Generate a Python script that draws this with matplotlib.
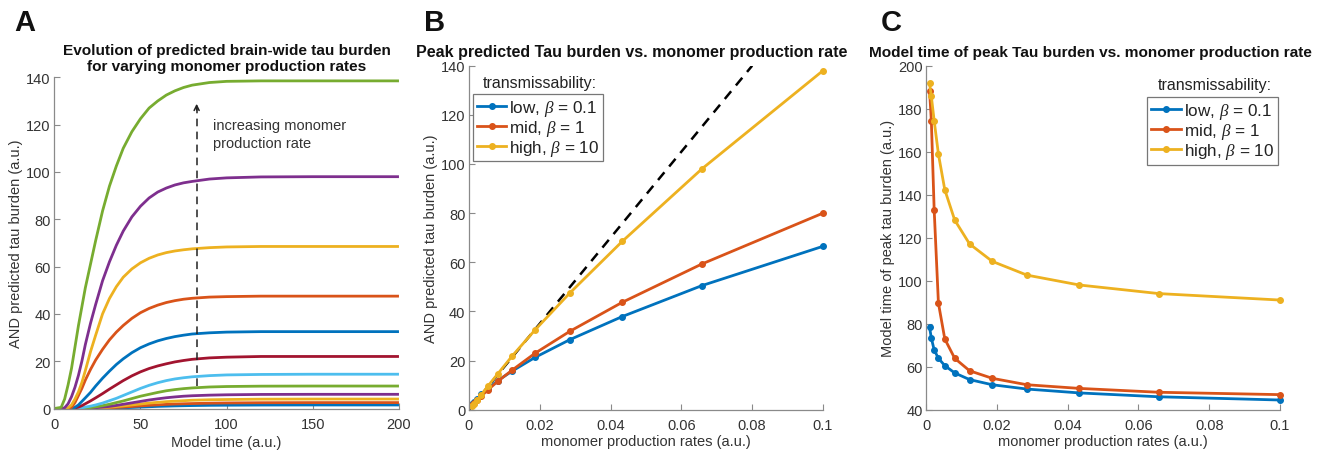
"""
Figura de tres paneles: evolución de la carga de tau (A), pico de carga vs tasa de
producción de monómero (B) y tiempo del pico vs tasa (C).
"""
import matplotlib
matplotlib.use('Agg')
import matplotlib.pyplot as plt

# ─── Datos ───────────────────────────────────────────────────────────────────

# Tiempos de muestreo (leídos a ojo) para las curvas del panel A
T_MODEL = [0, 4, 6, 8, 10, 12, 14, 16, 18, 21, 24, 28, 32, 36, 40, 45, 50, 55,
           60, 65, 70, 75, 80, 90, 100, 120, 150, 200]

# Una curva por tasa de producción, de menor a mayor
BURDEN_CURVES = [
    [0, 0, 0, 0, 0, 0, 0, 0, 0, 0, 0, 0.1, 0.15, 0.22, 0.3, 0.45, 0.6, 0.75,
     0.9, 1, 1.1, 1.18, 1.25, 1.35, 1.4, 1.47, 1.5, 1.5],
    [0, 0, 0, 0, 0, 0, 0, 0, 0, 0, 0.1, 0.2, 0.3, 0.45, 0.6, 0.85, 1.1, 1.35,
     1.55, 1.75, 1.9, 2, 2.1, 2.25, 2.35, 2.45, 2.5, 2.5],
    [0, 0, 0, 0, 0, 0, 0, 0, 0, 0.1, 0.2, 0.35, 0.55, 0.8, 1.1, 1.5, 1.9, 2.3,
     2.6, 2.9, 3.1, 3.3, 3.5, 3.7, 3.8, 3.95, 4, 4],
    [0, 0, 0, 0, 0, 0, 0, 0, 0.1, 0.2, 0.35, 0.6, 0.9, 1.3, 1.8, 2.4, 3, 3.6,
     4.1, 4.55, 4.9, 5.2, 5.4, 5.65, 5.8, 5.95, 6, 6],
    [0, 0, 0, 0, 0, 0, 0, 0.1, 0.2, 0.4, 0.7, 1.2, 1.8, 2.5, 3.2, 4.2, 5.2, 6,
     6.8, 7.5, 8, 8.4, 8.7, 9.1, 9.3, 9.45, 9.5, 9.5],
    [0, 0, 0, 0, 0, 0, 0.1, 0.3, 0.6, 1, 1.5, 2.3, 3.3, 4.3, 5.5, 7, 8.5, 9.8,
     10.9, 11.8, 12.5, 13, 13.4, 13.9, 14.2, 14.4, 14.5, 14.5],
    [0, 0, 0, 0, 0, 0.2, 0.6, 1.2, 2, 3.2, 4.5, 6.3, 8.2, 10, 11.8, 13.8, 15.5,
     16.9, 18, 18.9, 19.7, 20.3, 20.8, 21.4, 21.7, 22, 22, 22],
    [0, 0, 0, 0, 0, 0.5, 1.5, 3, 4.5, 6.8, 9.5, 12.8, 15.8, 18.6, 21, 23.6,
     25.7, 27.3, 28.6, 29.6, 30.4, 31, 31.5, 32, 32.3, 32.5, 32.5, 32.5],
    [0, 0, 0, 0, 0.5, 2.5, 5.5, 8.5, 12, 16.5, 20.5, 25, 29, 32.3, 35.1, 38.1,
     40.5, 42.3, 43.7, 44.8, 45.6, 46.2, 46.6, 47.1, 47.3, 47.5, 47.5, 47.5],
    [0, 0, 0, 0.3, 1.5, 4, 7, 11, 16, 24, 31, 40, 46.5, 51.5, 55.5, 59, 61.6,
     63.5, 64.9, 65.9, 66.6, 67.1, 67.5, 68, 68.3, 68.5, 68.5, 68.5],
    [0, 0, 0.3, 2, 5, 9, 14, 20, 27, 36, 44, 54, 62, 69, 75, 81, 85.5, 89, 91.5,
     93.2, 94.5, 95.4, 96, 97, 97.5, 97.9, 98, 98],
    [0, 0.5, 4, 10, 17, 26, 35, 43, 51, 61, 71, 83.5, 94, 102.5, 110, 117,
     122.5, 127, 130, 132.5, 134.3, 135.7, 136.7, 137.8, 138.3, 138.5, 138.5,
     138.5],
]

# Tasas de producción de monómero (paneles B y C)
RATES = [0.001, 0.0015, 0.0023, 0.0035, 0.0053, 0.0081, 0.0123, 0.0187,
         0.0285, 0.0433, 0.0658, 0.1]

PEAK_LOW = [2.3, 3.2, 4.5, 6.2, 8.5, 11.8, 15.8, 21.3, 28.5, 37.9, 50.5, 66.5]
PEAK_MID = [1.8, 2.6, 3.8, 5.5, 8, 11.5, 16.2, 23, 31.9, 43.7, 59.3, 80]
PEAK_HIGH = [1.5, 2.5, 4, 6, 9.5, 14.5, 22, 32.5, 47.5, 68.5, 98, 138]

# Recta de referencia (lineal) del panel B
REF_X = [0, 0.08]
REF_Y = [0, 140]

TPEAK_LOW = [78.3, 73.3, 67.8, 63.9, 60.5, 57.1, 54, 51.6, 49.6, 47.8, 46, 44.5]
TPEAK_MID = [188.4, 174.4, 133, 89.6, 72.9, 63.9, 58.1, 54.6, 51.6, 49.9, 48.1, 47]
TPEAK_HIGH = [191.9, 185.7, 174.4, 158.9, 142.3, 128.2, 117.1, 109, 102.6, 98,
              94, 91]

LEGEND_LABELS = [r'low, $\beta$ = 0.1', r'mid, $\beta$ = 1', r'high, $\beta$ = 10']

# ─── Estilo ──────────────────────────────────────────────────────────────────

# Orden de colores por defecto de MATLAB
MATLAB_COLORS = ['#0072BD', '#D95319', '#EDB120', '#7E2F8E', '#77AC30',
                 '#4DBEEE', '#A2142F']

AX_GRAY = '#8a8a8a'
TXT_GRAY = '#333333'

plt.rcParams.update({
    'font.family': ['Liberation Sans', 'DejaVu Sans'],
    'mathtext.fontset': 'custom',
    'mathtext.it': 'Liberation Serif:italic',
    'font.size': 10,
    'axes.linewidth': 0.9,
})


def style_axes(ax):
    """Ejes estilo MATLAB con box off: solo izquierda y abajo, ticks hacia adentro."""
    for side in ('top', 'right'):
        ax.spines[side].set_visible(False)
    for side in ('left', 'bottom'):
        ax.spines[side].set_color(AX_GRAY)
    ax.tick_params(direction='in', length=4, width=0.8, color=AX_GRAY,
                   labelcolor=TXT_GRAY, labelsize=10.5)
    ax.tick_params(axis='x', pad=6)
    ax.tick_params(axis='y', pad=2.5)


def add_legend(ax, lines, loc_xy, title_xy):
    # El título va afuera del recuadro, como en la figura original
    leg = ax.legend(lines, LEGEND_LABELS, loc='upper left', bbox_to_anchor=loc_xy,
                    borderaxespad=0, fancybox=False, edgecolor='#777777',
                    fontsize=12.3, handlelength=1.75, handletextpad=0.15,
                    labelspacing=0.0, borderpad=0.22, framealpha=1)
    leg.get_frame().set_linewidth(0.9)
    for t in leg.get_texts():
        t.set_color('#222222')
    ax.text(*title_xy, 'transmissability:', transform=ax.transAxes,
            ha='center', va='center', fontsize=11.5, color='#222222')


fig = plt.figure(figsize=(13.18, 4.52), dpi=100)

ax_a = fig.add_axes([0.0412, 0.094, 0.2615, 0.7327])
ax_b = fig.add_axes([0.3558, 0.0914, 0.2686, 0.761])
ax_c = fig.add_axes([0.7026, 0.0914, 0.2686, 0.761])

# ─── Panel A ─────────────────────────────────────────────────────────────────

for i, curve in enumerate(BURDEN_CURVES):
    ax_a.plot(T_MODEL, curve, color=MATLAB_COLORS[i % len(MATLAB_COLORS)],
              linewidth=2, solid_capstyle='butt')

# Flecha punteada "increasing monomer production rate"
ax_a.plot([82.6, 82.6], [9.6, 127], color='#222222', linestyle=(0, (5, 3.5)),
          linewidth=1.1)
ax_a.annotate('', xy=(82.6, 130), xytext=(82.6, 125),
              arrowprops=dict(arrowstyle='->', color='#222222', lw=1.1,
                              mutation_scale=9))
ax_a.text(92, 116, 'increasing monomer\nproduction rate', fontsize=10.5,
          color='#333333', va='center', ha='left', linespacing=1.35)

ax_a.set_xlim(0, 200)
ax_a.set_ylim(0, 140)
ax_a.set_xticks([0, 50, 100, 150, 200])
ax_a.set_yticks(range(0, 141, 20))
style_axes(ax_a)
ax_a.set_xlabel('Model time (a.u.)', fontsize=10.5, color=TXT_GRAY, labelpad=3)
ax_a.set_ylabel('AND predicted tau burden (a.u.)', fontsize=10.5,
                color=TXT_GRAY, labelpad=2)
ax_a.set_title('Evolution of predicted brain-wide tau burden\n'
               'for varying monomer production rates', fontsize=11.1,
               fontweight='bold', color='#111111', pad=5, linespacing=1.25)

# ─── Panel B ─────────────────────────────────────────────────────────────────

ax_b.plot(REF_X, REF_Y, color='black', linestyle=(0, (4, 3)), linewidth=1.8)
lines_b = []
for vals, color in zip([PEAK_LOW, PEAK_MID, PEAK_HIGH], MATLAB_COLORS[:3]):
    ln, = ax_b.plot(RATES, vals, color=color, linewidth=2, marker='o',
                    markersize=4, clip_on=False)
    lines_b.append(ln)

ax_b.set_xlim(0, 0.1)
ax_b.set_ylim(0, 140)
ax_b.set_xticks([0, 0.02, 0.04, 0.06, 0.08, 0.1])
ax_b.set_xticklabels(['0', '0.02', '0.04', '0.06', '0.08', '0.1'])
ax_b.set_yticks(range(0, 141, 20))
style_axes(ax_b)
ax_b.set_xlabel('monomer production rates (a.u.)', fontsize=10.5,
                color=TXT_GRAY, labelpad=1.5)
ax_b.set_ylabel('AND predicted tau burden (a.u.)', fontsize=10.5,
                color=TXT_GRAY, labelpad=2)
ax_b.set_title('Peak predicted Tau burden vs. monomer production rate',
               fontsize=11.5, fontweight='bold', color='#111111', pad=7, x=0.46)
add_legend(ax_b, lines_b, (0.011, 0.918), (0.2, 0.952))

# ─── Panel C ─────────────────────────────────────────────────────────────────

lines_c = []
for vals, color in zip([TPEAK_LOW, TPEAK_MID, TPEAK_HIGH], MATLAB_COLORS[:3]):
    ln, = ax_c.plot(RATES, vals, color=color, linewidth=2, marker='o',
                    markersize=4, clip_on=False)
    lines_c.append(ln)

ax_c.set_xlim(0, 0.1)
ax_c.set_ylim(40, 200)
ax_c.set_xticks([0, 0.02, 0.04, 0.06, 0.08, 0.1])
ax_c.set_xticklabels(['0', '0.02', '0.04', '0.06', '0.08', '0.1'])
ax_c.set_yticks(range(40, 201, 20))
style_axes(ax_c)
ax_c.set_xlabel('monomer production rates (a.u.)', fontsize=10.5,
                color=TXT_GRAY, labelpad=1.5)
ax_c.set_ylabel('Model time of peak tau burden (a.u.)', fontsize=10.5,
                color=TXT_GRAY, labelpad=2)
# Este título es más ancho que el eje: lo anclamos a la izquierda para que entre
ax_c.set_title('Model time of peak Tau burden vs. monomer production rate',
               fontsize=11.1, fontweight='bold', color='#111111', pad=7,
               loc='left', x=-0.162)
add_legend(ax_c, lines_c, (0.625, 0.908), (0.816, 0.945))

# Letras de panel
for letter, x in [('A', 0.011), ('B', 0.322), ('C', 0.668)]:
    fig.text(x, 0.95, letter, fontsize=21, fontweight='bold', color='#111111',
             ha='left', va='center')

fig.savefig('out.png', dpi=100)
